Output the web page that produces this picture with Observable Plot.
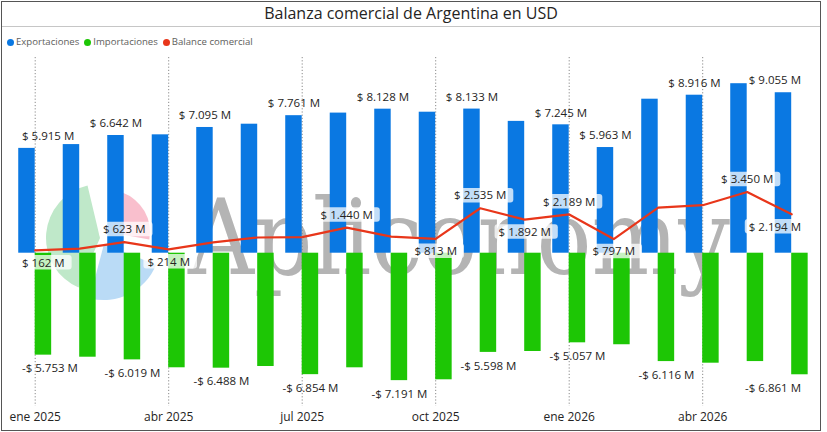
<!DOCTYPE html>
<html>
<head>
<meta charset="utf-8">
<script src="https://cdn.jsdelivr.net/npm/d3@7"></script>
<script src="https://cdn.jsdelivr.net/npm/@observablehq/plot@0.6"></script>
<style>
  body { margin: 0; background: #fff; }
  #wrap { position: relative; width: 827px; height: 432px; overflow: hidden; font-family: "Open Sans", sans-serif; background: #fff; }
  #chart { position: absolute; left: 0; top: 0; }
  #title { position: absolute; left: 2px; top: 2px; width: 818px; height: 23px; line-height: 23px; text-align: center; font-size: 16px; color: #252423; }
  #sep { position: absolute; left: 2px; top: 26px; width: 818px; border-top: 1px solid #c6c6c6; }
  #legend { position: absolute; left: 7px; top: 36px; height: 12px; line-height: 12px; font-size: 9.6px; color: #605E5C; display: flex; }
  .item { display: inline-flex; align-items: center; margin-right: 5px; }
  .dot { width: 7px; height: 7px; border-radius: 50%; margin-right: 2px; display: inline-block; }
  #frame { position: absolute; left: 1px; top: 1px; width: 820px; height: 430px; border: 1.5px solid #555; box-sizing: border-box; pointer-events: none; }
</style>
</head>
<body>
<div id="wrap">
  <div id="chart"></div>
  <div id="title">Balanza comercial de Argentina en USD</div>
  <div id="sep"></div>
  <div id="legend"></div>
  <div id="frame"></div>
</div>
<script>
// ---- data (millions of USD) ----
const months = ["ene 2025","feb 2025","mar 2025","abr 2025","may 2025","jun 2025","jul 2025","ago 2025","sep 2025","oct 2025","nov 2025","dic 2025","ene 2026","feb 2026","mar 2026","abr 2026","may 2026","jun 2026"];
const exportaciones = [5915, 6130, 6642, 6680, 7095, 7280, 7761, 7907, 8128, 7957, 8133, 7439, 7245, 5963, 8691, 8916, 9565, 9055];
const importaciones = [5753, 5869, 6019, 6466, 6488, 6394, 6854, 6467, 7191, 7144, 5598, 5547, 5057, 5166, 6116, 6207, 6115, 6861];
const balance       = [162, 261, 623, 214, 607, 886, 907, 1440, 937, 813, 2535, 1892, 2189, 797, 2575, 2709, 3450, 2194];
const tickMonths = [0, 3, 6, 9, 12, 15];
const tickLabels = ["ene 2025","abr 2025","jul 2025","oct 2025","ene 2026","abr 2026"];
const expLabelIdx = [0, 2, 4, 6, 8, 10, 12, 13, 15, 17];
const impLabelIdx = [0, 2, 4, 6, 8, 10, 12, 14, 17];
const balLabelIdx = [0, 2, 3, 7, 9, 10, 11, 12, 13, 16, 17];
const seriesNames = ["Exportaciones", "Importaciones", "Balance comercial"];
const colors = ["#0A78E2", "#1DC605", "#E8361A"];

// ---- legend ----
const legend = document.getElementById("legend");
seriesNames.forEach((n, k) => {
  const it = document.createElement("span"); it.className = "item";
  const dot = document.createElement("span"); dot.className = "dot"; dot.style.background = colors[k];
  it.append(dot, document.createTextNode(n));
  legend.append(it);
});

const fmt = v => {
  const a = Math.abs(v);
  const s = a >= 1000 ? Math.floor(a / 1000) + "." + String(a % 1000).padStart(3, "0") : String(a);
  return (v < 0 ? "-" : "") + "$ " + s + " M";
};

const rows = months.map((m, i) => ({i, m, exp: exportaciones[i], imp: importaciones[i], bal: balance[i]}));
const isPeak = i => {
  const l = i > 0 ? balance[i - 1] : -Infinity, r = i < balance.length - 1 ? balance[i + 1] : -Infinity;
  return balance[i] >= l && balance[i] >= r;
};
const balAbove = balLabelIdx.filter(isPeak).map(i => rows[i]);
const balBelow = balLabelIdx.filter(i => !isPeak(i)).map(i => rows[i]);
const half = 0.37;

const chart = Plot.plot({
  width: 827, height: 432,
  marginLeft: 12.45, marginRight: 13.55, marginTop: 57, marginBottom: 26,
  x: {domain: [-0.5, 17.5], label: null},
  y: {domain: [-8651, 11044], axis: null, label: null},
  style: {background: "transparent", fontFamily: "'Open Sans', sans-serif", overflow: "visible"},
  marks: [
    Plot.ruleX(tickMonths, {x: d => d, stroke: "#8a8a8a", strokeDasharray: "1.2,2", strokeWidth: 1}),
    Plot.rect(rows, {x1: d => d.i - half, x2: d => d.i, y1: () => 0, y2: d => d.exp, fill: colors[0]}),
    Plot.rect(rows, {x1: d => d.i, x2: d => d.i + half, y1: () => 0, y2: d => -d.imp, fill: colors[1]}),
    Plot.line(rows, {x: "i", y: "bal", stroke: colors[2], strokeWidth: 2.2}),
    Plot.text(expLabelIdx.map(i => rows[i]), {x: d => d.i - half / 2, y: "exp", text: d => fmt(d.exp), dy: -12, fontSize: 11.5, fill: "#252423"}),
    Plot.text(impLabelIdx.map(i => rows[i]), {x: d => d.i + half / 2, y: d => -d.imp, text: d => fmt(-d.imp), dy: 13.5, fontSize: 11.5, fill: "#252423"}),
    Plot.text(balAbove, {x: "i", y: "bal", text: d => fmt(d.bal), dy: -12.5, fontSize: 11.5, fill: "#252423"}),
    Plot.text(balBelow, {x: "i", y: "bal", text: d => fmt(d.bal), dy: 12.5, fontSize: 11.5, fill: "#252423"}),
    Plot.axisX(tickMonths, {tickSize: 0, tickPadding: 6, label: null, tickFormat: d => tickLabels[tickMonths.indexOf(d)], fontSize: 12, fill: "#252423"})
  ]
});
document.getElementById("chart").append(chart);

// the four data-label text groups, in mark order: exports, imports, balance above, balance below
const textGroups = Array.from(chart.querySelectorAll('g[aria-label="text"]'));
const balGroups = textGroups.slice(2, 4);

// ---- watermark (behind marks) ----
const svg = d3.select(chart);
const wm = svg.insert("g", "g").attr("aria-hidden", "true").attr("text-anchor", "start");
const arc = d3.arc();
const cx = 100, cy = 238;
wm.append("path").attr("transform", `translate(${cx},${cy})`).attr("fill", "#bfe8c9")
  .attr("d", arc({innerRadius: 0, outerRadius: 54, startAngle: 3.55, endAngle: 6.05}));
wm.append("path").attr("transform", `translate(${cx + 8},${cy - 6})`).attr("fill", "#f9bfcd")
  .attr("d", arc({innerRadius: 0, outerRadius: 42, startAngle: 0.35, endAngle: 1.75}));
wm.append("path").attr("transform", `translate(${cx + 4},${cy + 6})`).attr("fill", "#badbf6")
  .attr("d", arc({innerRadius: 0, outerRadius: 56, startAngle: 1.95, endAngle: 3.4}));
wm.append("text").attr("x", 188).attr("y", 274).attr("text-anchor", "start").attr("font-family", "'DejaVu Serif', serif")
  .attr("font-size", 104).attr("fill", "#b4b4b4").attr("textLength", 542).attr("lengthAdjust", "spacingAndGlyphs")
  .text("Apliconomy");

// ---- clamp labels horizontally and add boxes to balance labels ----
const LEFT = 22, RIGHT = 801;
textGroups.forEach(g => g.querySelectorAll("text").forEach(t => {
  const b = t.getBBox(), m = t.getCTM();
  const left = m.e + b.x * m.a, right = left + b.width * m.a;
  let shift = 0;
  if (left < LEFT) shift = LEFT - left;
  else if (right > RIGHT) shift = RIGHT - right;
  if (shift) t.setAttribute("dx", (parseFloat(t.getAttribute("dx")) || 0) + shift);
}));
balGroups.forEach(g => g.querySelectorAll("text").forEach(t => {
  const b = t.getBBox();
  const r = document.createElementNS("http://www.w3.org/2000/svg", "rect");
  r.setAttribute("x", b.x - 4); r.setAttribute("y", b.y + 0.5);
  r.setAttribute("width", b.width + 11); r.setAttribute("height", b.height - 0.5);
  r.setAttribute("rx", 3); r.setAttribute("fill", "#ffffff"); r.setAttribute("fill-opacity", 0.75);
  r.setAttribute("stroke", "none");
  if (t.getAttribute("transform")) r.setAttribute("transform", t.getAttribute("transform"));
  t.parentNode.insertBefore(r, t);
}));
</script>
</body>
</html>
